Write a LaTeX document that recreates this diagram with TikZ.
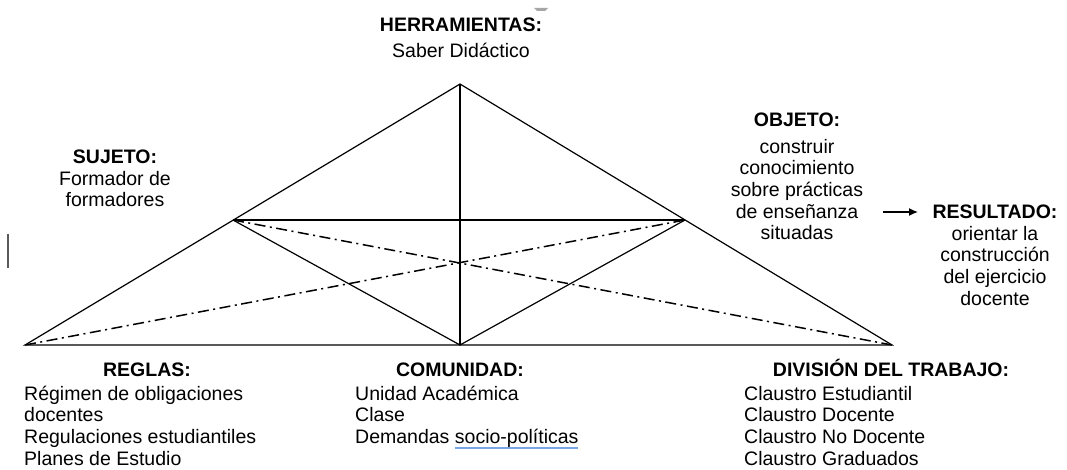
\documentclass[tikz,border=0pt]{standalone}
\usepackage{fontspec}
\setmainfont{Liberation Sans}
\usetikzlibrary{arrows.meta}
\definecolor{ulblue}{RGB}{120,165,230}
\definecolor{cursorgray}{RGB}{90,90,90}
\newcommand\spellul[1]{\setbox0\hbox{#1}\leavevmode\rlap{\color{ulblue}\rule[-5.5pt]{\wd0}{2.5pt}}\box0}
\begin{document}
\begin{tikzpicture}[x=1pt,y=-1pt,
  edge/.style={draw=black,line width=1.2pt},
  dashdot/.style={draw=black,line width=1.5pt,dash pattern=on 11pt off 4.5pt on 2pt off 4.5pt},
  head/.style={font=\fontsize{19.5}{21.7}\selectfont\bfseries,inner sep=0pt,anchor=base},
  body/.style={font=\fontsize{19.5}{21.7}\selectfont,inner sep=0pt},
  bodyc/.style={body,align=center,anchor=north},
  bodyl/.style={body,align=left,anchor=north west}]
\useasboundingbox (0,0) rectangle (1067,470);
% vertices
\coordinate (A) at (460,84);
\coordinate (L) at (25,345);
\coordinate (R) at (892,345);
\coordinate (M) at (460,345);
\coordinate (S) at (233,220);
\coordinate (O) at (685,220);
% solid lines
\draw[edge] (L) -- (A) -- (R) -- cycle;
\draw[edge] (A) -- (M);
\draw[edge] (S) -- (O);
\draw[edge] (S) -- (M) -- (O);
% dash-dot lines
\draw[dashdot] (L) -- (O);
\draw[dashdot] (S) -- (R);
% top
\node[head] (herr) at (461,32) {HERRAMIENTAS:};
\node[head,font=\fontsize{19.5}{21.7}\selectfont] (saber) at (461,58) {Saber Didáctico};
% sujeto
\node[head] (suj) at (115,164) {SUJETO:};
\node[bodyc] (sujb) at (115,169) {\rule{0pt}{16pt}Formador de\\formadores};
% objeto
\node[head] (obj) at (797,127) {OBJETO:};
\node[bodyc] (objb) at (797,137) {\rule{0pt}{16pt}construir\\conocimiento\\sobre prácticas\\de enseñanza\\situadas};
% resultado
\node[head] (res) at (995,219) {RESULTADO:};
\node[bodyc] (resb) at (995,224) {\rule{0pt}{16pt}orientar la\\construcción\\del ejercicio\\docente};
\coordinate (ar1) at (883,212);
\coordinate (ar2) at (918,212);
\draw[line width=1.3pt,-{Latex[length=9pt,width=8pt]}] (ar1) -- (ar2);
% bottom
\node[head] (reg) at (147,376) {REGLAS:};
\node[bodyl] (regb) at (24,384) {\rule{0pt}{16pt}Régimen de obligaciones\\docentes\\Regulaciones estudiantiles\\Planes de Estudio};
\node[head] (com) at (460,376) {COMUNIDAD:};
\node[bodyl] (comb) at (355,384) {\rule{0pt}{16pt}Unidad Académica\\Clase\\Demandas \spellul{socio-políticas}};
\node[head] (div) at (891,376) {DIVISIÓN DEL TRABAJO:};
\node[bodyl] (divb) at (744,384) {\rule{0pt}{16pt}Claustro Estudiantil\\Claustro Docente\\Claustro No Docente\\Claustro Graduados};
% small artefacts
\draw[cursorgray,line width=1.2pt] (8,234) -- (8,268);
\fill[gray!70] (534,8) -- (548,8) -- (545,11) -- (537,11) -- cycle;
\end{tikzpicture}
\end{document}
